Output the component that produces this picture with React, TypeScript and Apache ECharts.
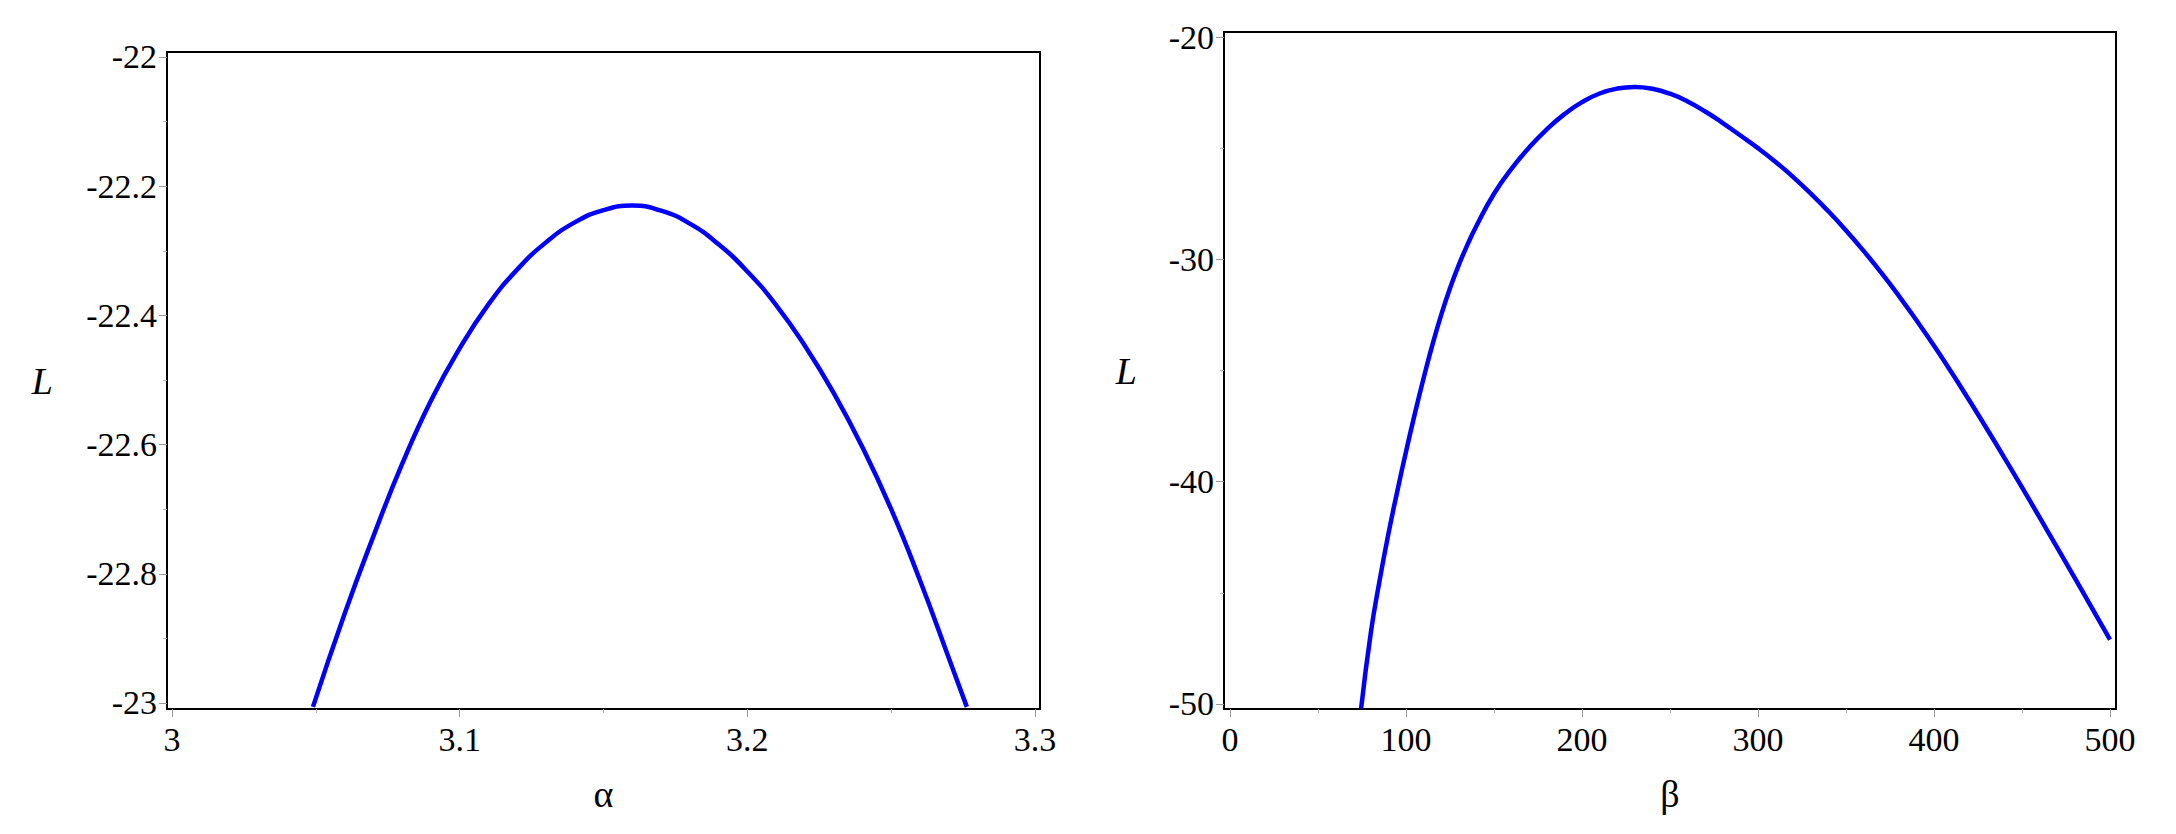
import React, { useEffect, useRef } from "react";
import * as echarts from "echarts";

// ---- data ----
const ALPHA = [3.049, 3.06, 3.07, 3.08, 3.09, 3.1, 3.11, 3.12, 3.13, 3.14, 3.15, 3.16, 3.17, 3.18, 3.19, 3.2, 3.21, 3.22, 3.23, 3.24, 3.25, 3.26, 3.27, 3.2763];
const L_ALPHA = [-23.006, -22.862, -22.742, -22.63, -22.532, -22.451, -22.383, -22.329, -22.287, -22.256, -22.237, -22.23, -22.238, -22.258, -22.29, -22.332, -22.384, -22.447, -22.52, -22.604, -22.7, -22.81, -22.93, -23.006];

const BETA = [74.5, 80, 85, 90, 95, 100, 105, 110, 115, 120, 125, 130, 135, 140, 150, 160, 170, 180, 190, 200, 210, 220, 230, 240, 250, 260, 270, 280, 290, 300, 310, 320, 330, 340, 350, 360, 370, 380, 390, 400, 410, 420, 430, 440, 450, 460, 470, 480, 490, 500];
const L_BETA = [-50.2, -46.8, -44.45, -42.35, -40.45, -38.65, -36.95, -35.35, -33.85, -32.5, -31.3, -30.25, -29.33, -28.5, -27.05, -25.92, -24.97, -24.15, -23.47, -22.93, -22.54, -22.32, -22.25, -22.33, -22.55, -22.9, -23.35, -23.87, -24.43, -25.0, -25.62, -26.3, -27.04, -27.84, -28.7, -29.62, -30.6, -31.64, -32.74, -33.89, -35.09, -36.34, -37.62, -38.93, -40.26, -41.61, -42.97, -44.34, -45.72, -47.1];

// ticks
const ALPHA_MAJOR = [3, 3.1, 3.2, 3.3];
const ALPHA_MINOR = [3.05, 3.15, 3.25];
const LA_MAJOR = [-23, -22.8, -22.6, -22.4, -22.2, -22];
const LA_MINOR = [-22.9, -22.7, -22.5, -22.3, -22.1];
const BETA_MAJOR = [0, 100, 200, 300, 400, 500];
const BETA_MINOR = [50, 150, 250, 350, 450];
const LB_MAJOR = [-50, -40, -30, -20];
const LB_MINOR = [-45, -35, -25];

// axis extents (the frame sits a few pixels outside the end ticks)
const ALPHA_RANGE = [2.99826, 3.30174];
const LA_RANGE = [-23.0093, -21.9923];
const BETA_RANGE = [-3.4, 503.4];
const LB_RANGE = [-50.225, -19.775];

const FONT = "'Liberation Serif', 'Times New Roman', serif";

function majorAxis(kind: "x" | "y", grid: number, range: number[], ticks: number[], name: string, nameGap: number) {
  const isY = kind === "y";
  return {
    type: "value",
    gridIndex: grid,
    position: isY ? "left" : "bottom",
    min: range[0],
    max: range[1],
    name,
    nameLocation: "middle",
    nameGap,
    nameRotate: 0,
    nameTextStyle: {
      fontFamily: FONT,
      fontSize: 38,
      color: "#000",
      fontStyle: isY ? "italic" : "normal",
    },
    axisLine: { show: true, onZero: false, lineStyle: { color: "#000", width: 2 } },
    axisTick: { show: true, customValues: ticks, length: 8, lineStyle: { color: "#9a9a9a", width: 1 } },
    axisLabel: {
      show: true,
      customValues: ticks,
      margin: isY ? 10 : 13,
      fontFamily: FONT,
      fontSize: 34,
      color: "#000",
      formatter: (v: number) => String(v),
    },
    splitLine: { show: false },
    minorTick: { show: false },
  };
}

function minorAxis(kind: "x" | "y", grid: number, range: number[], ticks: number[]) {
  const isY = kind === "y";
  return {
    type: "value",
    gridIndex: grid,
    position: isY ? "left" : "bottom",
    min: range[0],
    max: range[1],
    axisLine: { show: false, onZero: false },
    axisTick: { show: true, customValues: ticks, length: 4, lineStyle: { color: "#b0b0b0", width: 1 } },
    axisLabel: { show: false },
    splitLine: { show: false },
  };
}

export default function App() {
  const ref = useRef<HTMLDivElement>(null);
  useEffect(() => {
    if (!ref.current) return;
    const chart = echarts.init(ref.current, null, { renderer: "svg" });
    const leftRect = { left: 167, top: 52, width: 873, height: 657 };
    const rightRect = { left: 1224, top: 32, width: 892, height: 677 };
    const frame = { show: true, borderColor: "#000", borderWidth: 2, backgroundColor: "transparent", containLabel: false };
    const curve = {
      type: "line",
      showSymbol: false,
      smooth: 0.5,
      lineStyle: { color: "#0000ff", width: 4.5 },
      itemStyle: { color: "#0000ff" },
    };
    chart.setOption({
      animation: false,
      backgroundColor: "#fff",
      grid: [
        { ...leftRect, ...frame },
        { ...leftRect, show: false },
        { ...rightRect, ...frame },
        { ...rightRect, show: false },
      ],
      xAxis: [
        majorAxis("x", 0, ALPHA_RANGE, ALPHA_MAJOR, "α", 66),
        minorAxis("x", 1, ALPHA_RANGE, ALPHA_MINOR),
        majorAxis("x", 2, BETA_RANGE, BETA_MAJOR, "β", 66),
        minorAxis("x", 3, BETA_RANGE, BETA_MINOR),
      ],
      yAxis: [
        majorAxis("y", 0, LA_RANGE, LA_MAJOR, "L", 114),
        minorAxis("y", 1, LA_RANGE, LA_MINOR),
        majorAxis("y", 2, LB_RANGE, LB_MAJOR, "L", 87),
        minorAxis("y", 3, LB_RANGE, LB_MINOR),
      ],
      series: [
        { ...curve, xAxisIndex: 0, yAxisIndex: 0, data: ALPHA.map((a, i) => [a, L_ALPHA[i]]) },
        { ...curve, xAxisIndex: 2, yAxisIndex: 2, data: BETA.map((b, i) => [b, L_BETA[i]]) },
      ],
    });
    return () => chart.dispose();
  }, []);
  return (
    <div
      ref={ref}
      style={{ position: "absolute", left: 0, top: 0, width: 2176, height: 834, background: "#fff" }}
    />
  );
}
